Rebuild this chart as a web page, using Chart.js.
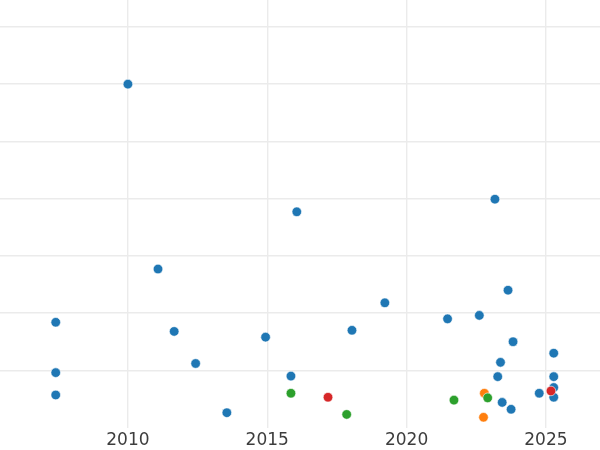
<!DOCTYPE html>
<html>
<head>
<meta charset="utf-8">
<script src="https://cdn.jsdelivr.net/npm/chart.js@4"></script>
<style>
  body { margin: 0; background: #fff; }
  #wrap { width: 600px; height: 450px; }
</style>
</head>
<body>
<div id="wrap"><canvas id="chart" width="600" height="450"></canvas></div>
<script>
// values (x = year, y = arbitrary units, one grid step = 1)
const blueX = [2010.0, 2016.06, 2011.08, 2007.41, 2007.41, 2007.41, 2011.66, 2012.43, 2013.55, 2014.94, 2015.85,
  2019.22, 2018.04, 2021.47, 2022.61, 2023.64, 2023.17, 2023.82, 2025.28, 2023.37, 2023.27, 2025.28, 2025.28,
  2025.28, 2024.76, 2023.43, 2023.75];
const blueY = [6.0, 3.77, 2.77, 1.84, 0.96, 0.57, 1.68, 1.12, 0.26, 1.58, 0.90,
  2.18, 1.70, 1.90, 1.96, 2.40, 3.99, 1.50, 1.30, 1.14, 0.89, 0.89, 0.70,
  0.53, 0.60, 0.44, 0.32];
const orangeX = [2022.79, 2022.76];
const orangeY = [0.60, 0.18];
const greenX = [2015.85, 2017.85, 2021.70, 2022.91];
const greenY = [0.60, 0.23, 0.48, 0.52];
const redX = [2017.18, 2025.18];
const redY = [0.53, 0.64];

const xTicks = [2010, 2015, 2020, 2025];
const yTicks = [1, 2, 3, 4, 5, 6, 7];

const toPoints = (xs, ys) => xs.map((x, i) => ({ x: x, y: ys[i] }));

const ctx = document.getElementById("chart").getContext("2d");

const dot = (color, order) => ({
  backgroundColor: color,
  borderColor: "#ffffff",
  borderWidth: 0.6,
  pointRadius: 4.8,
  pointHoverRadius: 4.8,
  order: order,
});

new Chart(ctx, {
  type: "scatter",
  data: {
    datasets: [
      { label: "blue", data: toPoints(blueX, blueY), ...dot("#1f77b4", 4) },
      { label: "orange", data: toPoints(orangeX, orangeY), ...dot("#ff7f0e", 3) },
      { label: "green", data: toPoints(greenX, greenY), ...dot("#2ca02c", 2) },
      { label: "red", data: toPoints(redX, redY), ...dot("#d62728", 1) },
    ],
  },
  options: {
    responsive: false,
    animation: false,
    layout: { padding: { left: 0, right: 0, top: 0, bottom: -4 }, autoPadding: false },
    plugins: {
      legend: { display: false },
      tooltip: { enabled: false },
    },
    scales: {
      x: {
        type: "linear",
        min: 2005.41,
        max: 2026.94,
        afterBuildTicks: (axis) => {
          axis.ticks = xTicks.map((v) => ({ value: v }));
        },
        grid: { color: "#ebebeb", lineWidth: 1.4, drawTicks: false },
        border: { display: false },
        ticks: {
          padding: 3,
          color: "#3d3d3d",
          font: { family: "DejaVu Sans", size: 17 },
          callback: (v) => String(v),
        },
      },
      y: {
        type: "linear",
        min: 0,
        max: 7.47,
        afterBuildTicks: (axis) => {
          axis.ticks = yTicks.map((v) => ({ value: v }));
        },
        grid: { color: "#ebebeb", lineWidth: 1.4, drawTicks: false },
        border: { display: false },
        ticks: { display: false },
      },
    },
  },
});
</script>
</body>
</html>
